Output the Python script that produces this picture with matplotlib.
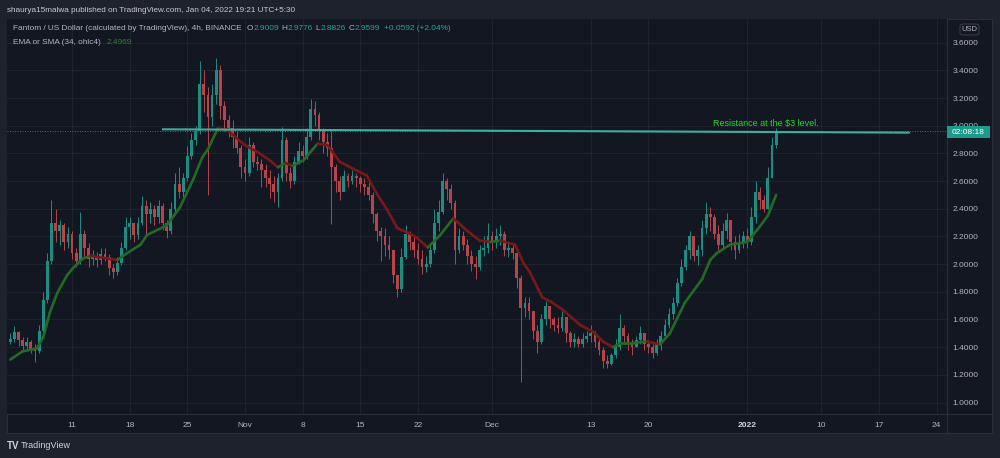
import numpy as np
import pandas as pd
import matplotlib
matplotlib.use("Agg")
import matplotlib.pyplot as plt
import matplotlib.dates as mdates
from matplotlib.collections import LineCollection
from matplotlib.patches import Rectangle, FancyBboxPatch
from matplotlib.lines import Line2D

plt.rcParams['font.family'] = ['Liberation Sans', 'DejaVu Sans']

first_open = 1.44
close = [1.46, 1.51, 1.45, 1.41, 1.44, 1.39, 1.37, 1.52, 1.74, 2.02,
         2.30, 2.24, 2.28, 2.16, 2.22, 2.08, 2.02, 2.22, 2.12, 2.04,
         2.06, 2.03, 2.07, 2.05, 1.97, 1.94, 2.01, 2.12, 2.27, 2.30,
         2.21, 2.30, 2.42, 2.36, 2.40, 2.34, 2.42, 2.30, 2.24, 2.40,
         2.58, 2.52, 2.62, 2.78, 2.90, 2.96, 3.30, 3.22, 3.06, 3.22,
         3.40, 3.14, 3.04, 2.98, 2.92, 2.84, 2.70, 2.66, 2.86, 2.74,
         2.72, 2.68, 2.62, 2.58, 2.52, 2.62, 2.90, 2.66, 2.60, 2.74,
         2.82, 2.78, 2.92, 3.12, 3.08, 2.96, 2.88, 2.84, 2.70, 2.60,
         2.52, 2.64, 2.60, 2.64, 2.62, 2.58, 2.56, 2.50, 2.36, 2.24,
         2.20, 2.14, 2.10, 1.92, 1.82, 2.05, 2.22, 2.16, 2.10, 2.04,
         1.98, 2.00, 2.10, 2.30, 2.38, 2.60, 2.54, 2.44, 2.10, 2.20,
         2.14, 2.06, 2.00, 1.98, 2.10, 2.12, 2.20, 2.16, 2.20, 2.22,
         2.10, 2.12, 2.08, 1.90, 1.68, 1.72, 1.66, 1.52, 1.44, 1.60,
         1.70, 1.60, 1.56, 1.54, 1.62, 1.50, 1.44, 1.46, 1.42, 1.46,
         1.48, 1.50, 1.44, 1.38, 1.30, 1.28, 1.34, 1.40, 1.54, 1.48,
         1.42, 1.40, 1.45, 1.50, 1.42, 1.40, 1.36, 1.42, 1.48, 1.56,
         1.64, 1.72, 1.86, 1.98, 2.10, 2.20, 2.06, 2.10, 2.26, 2.36,
         2.34, 2.22, 2.14, 2.24, 2.32, 2.16, 2.10, 2.16, 2.20, 2.16,
         2.34, 2.52, 2.46, 2.40, 2.62, 2.86, 2.96]
high = [1.50, 1.55, 1.52, 1.47, 1.47, 1.45, 1.42, 1.56, 1.80, 2.08,
        2.46, 2.40, 2.32, 2.30, 2.27, 2.24, 2.12, 2.38, 2.25, 2.15,
        2.10, 2.09, 2.12, 2.12, 2.07, 2.00, 2.05, 2.16, 2.34, 2.34,
        2.30, 2.34, 2.49, 2.46, 2.45, 2.43, 2.46, 2.44, 2.32, 2.45,
        2.66, 2.70, 2.66, 2.85, 2.95, 3.00, 3.47, 3.40, 3.28, 3.30,
        3.49, 3.44, 3.18, 3.08, 3.04, 2.96, 2.86, 2.76, 2.92, 2.88,
        2.78, 2.76, 2.72, 2.68, 2.64, 2.66, 2.99, 2.92, 2.70, 2.78,
        2.88, 2.86, 2.98, 3.19, 3.18, 3.10, 2.98, 2.95, 2.96, 2.72,
        2.64, 2.68, 2.66, 2.68, 2.66, 2.64, 2.62, 2.60, 2.52, 2.38,
        2.27, 2.26, 2.20, 2.06, 1.92, 2.12, 2.28, 2.24, 2.20, 2.15,
        2.10, 2.06, 2.14, 2.40, 2.46, 2.66, 2.62, 2.58, 2.46, 2.26,
        2.24, 2.18, 2.10, 2.06, 2.14, 2.20, 2.30, 2.24, 2.26, 2.28,
        2.24, 2.15, 2.14, 2.12, 1.92, 1.76, 1.76, 1.62, 1.56, 1.64,
        1.73, 1.68, 1.62, 1.62, 1.66, 1.62, 1.52, 1.50, 1.48, 1.50,
        1.52, 1.56, 1.52, 1.46, 1.40, 1.34, 1.36, 1.46, 1.64, 1.56,
        1.50, 1.46, 1.48, 1.55, 1.50, 1.45, 1.44, 1.46, 1.52, 1.60,
        1.68, 1.76, 1.90, 2.04, 2.14, 2.24, 2.20, 2.14, 2.32, 2.45,
        2.41, 2.36, 2.28, 2.30, 2.37, 2.30, 2.20, 2.22, 2.24, 2.26,
        2.41, 2.60, 2.56, 2.50, 2.70, 2.92, 2.98]
low = [1.42, 1.44, 1.41, 1.37, 1.39, 1.36, 1.29, 1.36, 1.50, 1.72,
       2.00, 2.16, 2.14, 2.10, 2.12, 2.04, 1.98, 2.00, 2.06, 1.98,
       1.99, 1.98, 2.00, 2.02, 1.92, 1.90, 1.92, 1.99, 2.10, 2.18,
       2.16, 2.18, 2.28, 2.22, 2.30, 2.28, 2.30, 2.25, 2.19, 2.22,
       2.38, 2.48, 2.48, 2.60, 2.76, 2.86, 2.94, 3.10, 2.50, 3.00,
       3.16, 3.05, 2.96, 2.92, 2.84, 2.80, 2.62, 2.60, 2.64, 2.70,
       2.68, 2.56, 2.56, 2.48, 2.45, 2.41, 2.60, 2.60, 2.55, 2.58,
       2.72, 2.74, 2.76, 2.90, 3.00, 2.90, 2.80, 2.78, 2.29, 2.52,
       2.46, 2.56, 2.56, 2.58, 2.56, 2.52, 2.50, 2.46, 2.30, 2.17,
       2.02, 2.06, 2.04, 1.86, 1.76, 1.80, 2.04, 2.10, 2.05, 2.00,
       1.93, 1.94, 1.98, 2.08, 2.24, 2.36, 2.46, 2.40, 2.00, 2.08,
       2.10, 2.00, 1.95, 1.89, 1.96, 2.06, 2.08, 2.10, 2.12, 2.14,
       2.06, 2.05, 2.04, 1.83, 1.15, 1.62, 1.60, 1.46, 1.36, 1.42,
       1.56, 1.54, 1.52, 1.50, 1.52, 1.44, 1.40, 1.40, 1.40, 1.40,
       1.44, 1.44, 1.40, 1.34, 1.25, 1.25, 1.27, 1.32, 1.38, 1.44,
       1.38, 1.34, 1.40, 1.42, 1.38, 1.36, 1.32, 1.34, 1.38, 1.46,
       1.54, 1.60, 1.70, 1.84, 1.96, 2.04, 2.02, 1.99, 2.06, 2.22,
       2.24, 2.18, 2.10, 2.12, 2.18, 2.10, 2.04, 2.08, 2.12, 2.12,
       2.14, 2.30, 2.40, 2.38, 2.40, 2.62, 2.84]

# EMA (34, ohlc4), days after 2021-10-11
ema_day = [-7.5, -6.0, -4.3, -3.5, -2.7, -1.8, -0.6, 0.1, 1.3, 2.2,
           5.5, 6.7, 8.3, 9.1, 11.5, 13.1, 14.7, 15.8, 16.5, 17.7,
           18.8, 21.0, 22.5, 24.0, 25.0, 25.9, 26.8, 28.1, 29.8, 31.0,
           32.5, 34.1, 35.8, 37.0, 38.3, 39.5, 40.7, 41.9, 43.2, 44.7,
           46.3, 48.0, 49.5, 50.8, 52.0, 53.8, 54.8, 55.6, 57.1, 58.1,
           59.6, 61.7, 63.3, 64.5, 65.7, 66.6, 68.1, 69.8, 70.6, 71.4,
           72.6, 74.4, 76.5, 77.5, 78.3, 79.9, 82.0, 83.5, 84.5, 85.5]
ema_val = [1.31, 1.37, 1.39, 1.47, 1.65, 1.79, 1.92, 1.97, 2.04, 2.06,
           2.03, 2.08, 2.14, 2.21, 2.28, 2.41, 2.61, 2.77, 2.83, 2.98,
           2.97, 2.86, 2.81, 2.75, 2.70, 2.73, 2.71, 2.75, 2.87, 2.86,
           2.74, 2.69, 2.64, 2.51, 2.39, 2.26, 2.23, 2.19, 2.12, 2.21,
           2.33, 2.24, 2.17, 2.16, 2.17, 2.14, 2.01, 1.94, 1.76, 1.73,
           1.67, 1.56, 1.51, 1.44, 1.40, 1.43, 1.43, 1.44, 1.43, 1.42,
           1.50, 1.72, 1.89, 2.03, 2.08, 2.14, 2.16, 2.27, 2.35, 2.50]

tick_dates = ['2021-10-11', '2021-10-18', '2021-10-25', '2021-11-01', '2021-11-08',
              '2021-11-15', '2021-11-22', '2021-12-01', '2021-12-13', '2021-12-20',
              '2022-01-01', '2022-01-10', '2022-01-17', '2022-01-24']
tick_labels = ['11', '18', '25', 'Nov', '8', '15', '22', 'Dec', '13', '20',
               '2022', '10', '17', '24']
price_ticks = [1.0, 1.2, 1.4, 1.6, 1.8, 2.0, 2.2, 2.4, 2.6, 2.8, 3.0, 3.2, 3.4, 3.6]

last_price = 2.9599
resist_day = [11.05, 101.6]
resist_val = [2.974, 2.950]

BG_OUT = '#1e222d'
BG = '#131722'
GRID = '#222631'
TXT = '#b2b5be'
UP = '#1d8c81'
DOWN = '#b8444a'
EMA_UP = '#236a27'
EMA_DN = '#7a1719'
TEAL = '#26a69a'

W, H = 1000, 458
fig = plt.figure(figsize=(W / 100, H / 100), dpi=100, facecolor=BG_OUT)


def fx(px):
    return px / W


def fy(py):
    return 1 - py / H


# chart panel
fig.patches.append(Rectangle((fx(7), fy(433)), fx(992) - fx(7), fy(19) - fy(433),
                             transform=fig.transFigure, facecolor=BG,
                             edgecolor='#2a2e39', lw=0.8, zorder=-1))

ax = fig.add_axes([fx(7), fy(414), fx(947) - fx(7), fy(19) - fy(414)])
ax.set_facecolor(BG)
for s in ax.spines.values():
    s.set_visible(False)

base = pd.Timestamp('2021-10-11')
t = mdates.date2num(pd.date_range('2021-10-03 12:00', periods=len(close), freq='12h').to_pydatetime())
c = np.array(close)
o = np.array([first_open] + close[:-1])
col = np.where(c >= o, UP, DOWN)

ax.vlines(t, low, high, colors=col, lw=0.7, zorder=3)
body = np.maximum(np.abs(c - o), 0.006)
ax.bar(t, body, bottom=np.minimum(o, c), width=0.34, color=col, lw=0, zorder=3)

# EMA, coloured by direction
et = mdates.date2num((base + pd.to_timedelta(ema_day, unit='D')).to_pydatetime())
pts = np.column_stack([et, ema_val])
segs = np.stack([pts[:-1], pts[1:]], axis=1)
seg_col = [EMA_UP if b >= a else EMA_DN for a, b in zip(ema_val[:-1], ema_val[1:])]
ax.add_collection(LineCollection(segs, colors=seg_col, linewidths=1.9,
                                 capstyle='round', joinstyle='round', zorder=4))

# resistance line + label
rt = mdates.date2num((base + pd.to_timedelta(resist_day, unit='D')).to_pydatetime())
ax.plot(rt, resist_val, color='#3fae9f', lw=1.5, zorder=5)
ax.text(mdates.date2num(base + pd.Timedelta(days=77.8)), 3.013,
        'Resistance at the \\$3 level.', color='#22dd22', fontsize=6.5,
        va='center', ha='left', zorder=6)
ax.axhline(last_price, color=TEAL, lw=0.6, ls=(0, (1, 2)), zorder=2)

ax.set_xlim(mdates.date2num(base - pd.Timedelta(days=7.9)),
            mdates.date2num(base + pd.Timedelta(days=106.25)))
ax.set_ylim(0.917, 3.771)

ax.set_xticks(mdates.date2num(pd.to_datetime(tick_dates).to_pydatetime()))
ax.set_xticklabels(tick_labels)
ax.yaxis.tick_right()
ax.set_yticks(price_ticks)
ax.set_yticklabels(['%.4f' % v for v in price_ticks])
ax.tick_params(axis='both', length=0, colors=TXT, labelsize=6)
ax.tick_params(axis='x', pad=6)
ax.tick_params(axis='y', pad=4)
for lab in ax.get_xticklabels():
    if lab.get_text() == '2022':
        lab.set_color('#d1d4dc')
        lab.set_fontweight('bold')
ax.grid(True, color=GRID, lw=0.6, zorder=0)
ax.set_axisbelow(True)

# axis separators
fig.lines.append(Line2D([fx(947), fx(947)], [fy(19), fy(433)], transform=fig.transFigure,
                        color='#2a2e39', lw=0.8))
fig.lines.append(Line2D([fx(7), fx(992)], [fy(414), fy(414)], transform=fig.transFigure,
                        color='#2a2e39', lw=0.8))

# price badge and currency box
fig.patches.append(Rectangle((fx(947), fy(138)), fx(990) - fx(947), fy(126) - fy(138),
                             transform=fig.transFigure, facecolor='#1e9a8d', lw=0, zorder=5))
fig.text(fx(968.5), fy(132), '02:08:18', color='white', fontsize=6, ha='center', va='center', zorder=6)
fig.patches.append(FancyBboxPatch((fx(960), fy(35)), fx(979) - fx(960), fy(24) - fy(35),
                                  boxstyle='round,pad=0,rounding_size=0.004',
                                  transform=fig.transFigure, facecolor='none',
                                  edgecolor='#434651', lw=0.6, zorder=5))
fig.text(fx(969.5), fy(29.5), 'USD', color=TXT, fontsize=5.5, ha='center', va='center')

# header texts
fig.text(fx(7), fy(10.5), 'shaurya15malwa published on TradingView.com, Jan 04, 2022 19:21 UTC+5:30',
         color='#c8cad0', fontsize=5.9, va='center')

renderer = fig.canvas.get_renderer()


def text_row(x, y, parts, size):
    for s, cc, gap in parts:
        tx = fig.text(fx(x), fy(y), s, color=cc, fontsize=size, va='center')
        x += tx.get_window_extent(renderer).width + gap


text_row(13, 29, [('Fantom / US Dollar (calculated by TradingView), 4h, BINANCE', TXT, 5),
                  ('O', TXT, 0), ('2.9009', TEAL, 3), ('H', TXT, 0), ('2.9776', TEAL, 3),
                  ('L', TXT, 0), ('2.8826', TEAL, 3), ('C', TXT, 0), ('2.9599', TEAL, 4),
                  ('+0.0592 (+2.04%)', TEAL, 0)], 5.95)
text_row(13, 42, [('EMA or SMA (34, ohlc4)', TXT, 6), ('2.4969', '#2e7d32', 0)], 5.95)

# footer logo
fig.text(fx(7), fy(446), 'TV', color='#d1d4dc', fontsize=7, fontweight='bold', va='center')
fig.text(fx(21), fy(446), 'TradingView', color='#d1d4dc', fontsize=6.5, va='center')

fig.savefig('out.png', dpi=100, facecolor=BG_OUT)
